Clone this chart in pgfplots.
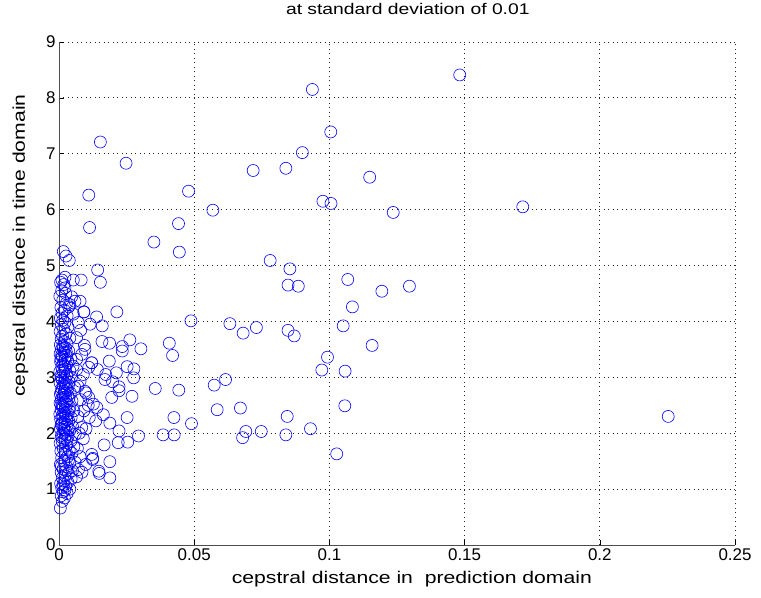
\documentclass[border=0pt]{standalone}
\usepackage{fontspec}
\setmainfont{Liberation Sans}
\newfontfamily\labelfont[FakeStretch=1.25]{Liberation Sans}
\usepackage{pgfplots}
\pgfplotsset{compat=1.18}
\begin{document}
\begin{tikzpicture}
\begin{axis}[
  scale only axis, width=676bp, height=503bp,
  xmin=0, xmax=0.25, ymin=0, ymax=9,
  axis lines*=left,
  axis line style={black!70, line width=0.8bp},
  xtick={0,0.05,0.1,0.15,0.2,0.25},
  xticklabels={0,0.05,0.1,0.15,0.2,0.25},
  ytick={0,1,2,3,4,5,6,7,8,9},
  yticklabels={0,1,2,3,4,5,6,7,8,9},
  tick align=inside, major tick length=5bp,
  tick style={black, line width=0.6bp},
  ticklabel style={font=\fontsize{17}{17}\selectfont},
  grid=major,
  grid style={black!85, line width=0.8bp, dash pattern=on 1bp off 3.5bp},
  title={\labelfont at standard deviation of 0.01},
  title style={at={(axis description cs:0.516,1)}, anchor=center, yshift=27bp, font=\fontsize{15.5}{15.5}\selectfont},
  xlabel={\labelfont cepstral distance in\ \ prediction domain},
  xlabel style={at={(axis description cs:0.522,-0.068)}, anchor=center, font=\fontsize{17}{17}\selectfont},
  ylabel={\labelfont cepstral distance in time domain},
  ylabel style={at={(axis description cs:-0.057,0.595)}, anchor=center, font=\fontsize{17}{17}\selectfont},
  clip=false,
]
\addplot[only marks, mark=o, mark size=6bp, blue, mark options={line width=0.6bp}] table {
x y
0.0005 0.66
0.0012 0.78
0.0008 0.88
0.0020 0.84
0.0015 0.95
0.0030 0.92
0.0010 1.02
0.0025 1.05
0.0040 1.00
0.0006 1.10
0.0018 1.14
0.0033 1.12
0.0012 1.20
0.0045 1.18
0.0022 1.24
0.0008 1.30
0.0035 1.28
0.0015 1.36
0.0050 1.33
0.0028 1.40
0.0005 1.44
0.0040 1.46
0.0018 1.50
0.0060 1.48
0.0010 1.56
0.0032 1.58
0.0024 1.62
0.0048 1.64
0.0007 1.68
0.0016 1.72
0.0038 1.70
0.0028 1.78
0.0055 1.76
0.0004 1.82
0.0012 1.85
0.0044 1.86
0.0021 1.90
0.0033 1.94
0.0009 1.96
0.0060 1.98
0.0015 2.00
0.0026 2.03
0.0040 2.05
0.0005 2.08
0.0018 2.10
0.0050 2.12
0.0030 2.14
0.0010 2.17
0.0022 2.20
0.0036 2.22
0.0006 2.25
0.0014 2.27
0.0045 2.28
0.0026 2.31
0.0003 2.34
0.0034 2.35
0.0017 2.38
0.0055 2.40
0.0008 2.42
0.0024 2.44
0.0040 2.46
0.0012 2.49
0.0030 2.52
0.0004 2.54
0.0019 2.56
0.0048 2.58
0.0009 2.61
0.0036 2.62
0.0025 2.65
0.0014 2.68
0.0005 2.70
0.0042 2.72
0.0020 2.75
0.0031 2.78
0.0010 2.80
0.0058 2.82
0.0016 2.85
0.0026 2.88
0.0004 2.90
0.0038 2.92
0.0012 2.95
0.0022 2.98
0.0046 3.00
0.0007 3.03
0.0030 3.05
0.0017 3.08
0.0003 3.10
0.0040 3.12
0.0024 3.15
0.0010 3.18
0.0052 3.20
0.0015 3.23
0.0034 3.26
0.0006 3.28
0.0021 3.31
0.0044 3.33
0.0012 3.36
0.0028 3.39
0.0004 3.42
0.0018 3.45
0.0036 3.47
0.0009 3.50
0.0024 3.53
0.0014 3.56
0.0005 3.58
0.0030 3.60
0.0019 3.64
0.0008 3.68
0.0040 3.70
0.0013 3.74
0.0026 3.78
0.0004 3.82
0.0017 3.86
0.0033 3.90
0.0009 3.94
0.0022 3.98
0.0014 4.02
0.0005 4.06
0.0030 4.10
0.0011 4.15
0.0020 4.20
0.0007 4.25
0.0040 4.30
0.0014 4.38
0.0003 4.45
0.0025 4.50
0.0010 4.55
0.0018 4.66
0.0006 4.70
0.0011 1.92
0.0027 1.97
0.0019 2.06
0.0034 2.09
0.0008 2.15
0.0029 2.24
0.0013 2.32
0.0021 2.36
0.0037 2.41
0.0016 2.47
0.0007 2.51
0.0027 2.58
0.0015 2.63
0.0033 2.67
0.0009 2.74
0.0024 2.81
0.0035 2.86
0.0019 2.91
0.0008 2.99
0.0028 3.02
0.0013 3.13
0.0021 3.20
0.0032 3.30
0.0010 3.40
0.0027 3.46
0.0016 3.52
0.0007 3.33
0.0020 2.71
0.0012 2.19
0.0030 1.88
0.0022 1.66
0.0009 1.41
0.0035 1.52
0.0026 1.33
0.0016 1.08
0.0022 0.98
0.0065 1.22
0.0072 1.35
0.0085 1.30
0.0078 1.58
0.0068 1.73
0.0090 1.90
0.0075 2.00
0.0100 2.08
0.0084 2.10
0.0070 2.30
0.0092 2.40
0.0108 2.50
0.0080 2.60
0.0110 2.64
0.0127 2.52
0.0100 2.72
0.0070 2.84
0.0096 2.75
0.0078 2.93
0.0090 3.05
0.0065 3.14
0.0110 3.18
0.0121 3.26
0.0084 3.41
0.0065 3.32
0.0096 3.50
0.0094 3.57
0.0065 3.71
0.0080 3.84
0.0071 3.98
0.0053 4.13
0.0092 4.17
0.0036 4.26
0.0028 4.33
0.0059 4.36
0.0078 4.36
0.0047 4.44
0.0022 4.60
0.0112 2.28
0.0140 2.46
0.0125 1.55
0.0099 1.44
0.0121 1.62
0.0124 1.53
0.0147 1.32
0.0149 1.28
0.0188 1.20
0.0188 1.49
0.0167 1.79
0.0219 1.83
0.0254 1.84
0.0294 1.95
0.0385 1.97
0.0426 1.97
0.0490 2.17
0.0425 2.28
0.0252 2.28
0.0222 2.04
0.0188 2.18
0.0164 2.33
0.0136 2.22
0.0270 2.66
0.0195 2.64
0.0222 2.83
0.0222 2.76
0.0198 2.92
0.0212 3.08
0.0170 2.96
0.0173 3.05
0.0142 3.14
0.0121 3.26
0.0276 2.99
0.0356 2.80
0.0443 2.77
0.0252 3.19
0.0277 3.15
0.0186 3.29
0.0159 3.64
0.0187 3.61
0.0234 3.55
0.0234 3.47
0.0262 3.67
0.0303 3.51
0.0408 3.61
0.0420 3.39
0.0214 4.17
0.0139 4.08
0.0160 3.92
0.0115 3.95
0.0092 4.17
0.0488 4.01
0.0153 4.70
0.0016 5.25
0.0026 5.17
0.0038 5.09
0.0143 4.92
0.0011 4.74
0.0022 4.79
0.0053 4.74
0.0082 4.74
0.0153 7.21
0.0248 6.83
0.0110 6.26
0.0479 6.33
0.0569 5.99
0.0113 5.68
0.0442 5.75
0.0351 5.42
0.0445 5.24
0.1482 8.41
0.0937 8.15
0.1005 7.39
0.0900 7.02
0.0718 6.70
0.0839 6.74
0.1149 6.58
0.0976 6.15
0.1006 6.11
0.1236 5.95
0.1715 6.05
0.0781 5.09
0.0854 4.94
0.1068 4.75
0.0847 4.65
0.0885 4.63
0.1194 4.54
0.1296 4.63
0.1085 4.26
0.0632 3.96
0.0681 3.79
0.0730 3.89
0.0847 3.84
0.0870 3.74
0.1051 3.92
0.1158 3.57
0.0993 3.36
0.0972 3.13
0.1058 3.11
0.0574 2.86
0.0616 2.96
0.0585 2.42
0.0671 2.45
0.0844 2.30
0.1057 2.49
0.0930 2.08
0.0691 2.03
0.0679 1.92
0.0748 2.03
0.0839 1.97
0.1027 1.63
0.2253 2.30
};
\path[use as bounding box] (axis cs:0,0) ++(-59bp,-53bp) rectangle ++(761bp,597bp);
\end{axis}
\end{tikzpicture}
\end{document}
